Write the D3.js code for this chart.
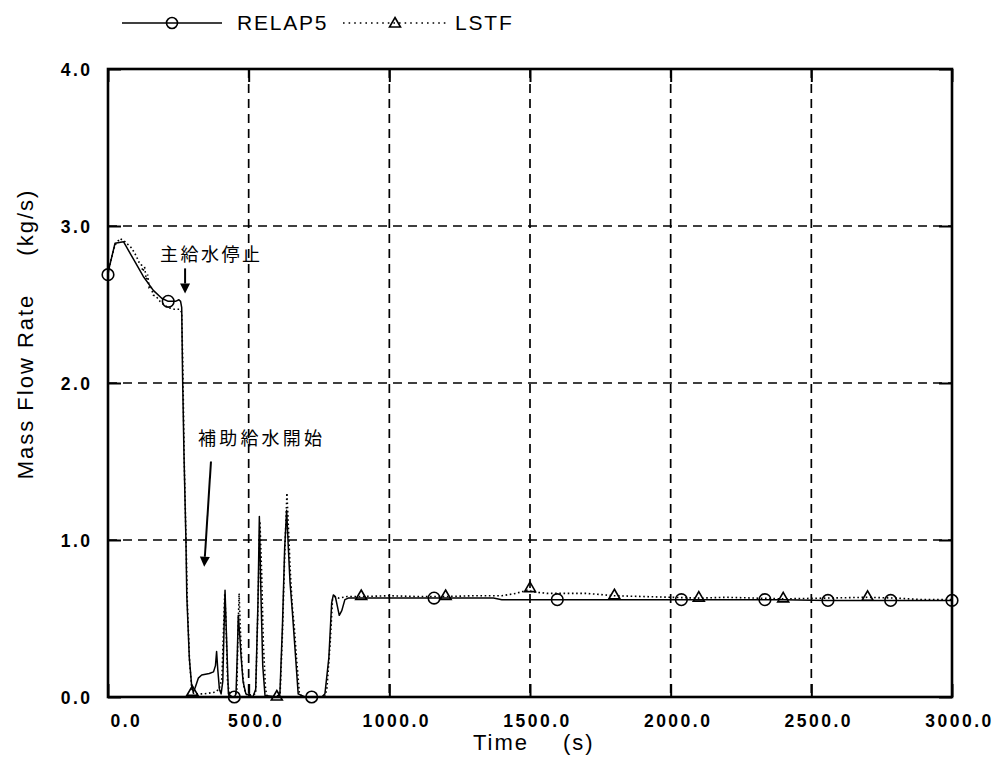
<!DOCTYPE html>
<html>
<head>
<meta charset="utf-8">
<script src="https://cdn.jsdelivr.net/npm/d3@7"></script>
<style>
  html, body { margin: 0; padding: 0; background: #fff; }
  svg { display: block; }
</style>
</head>
<body>
<svg id="chart" width="998" height="760"></svg>
<script>
// Axis ticks and their printed labels
const xTicks = [0, 500, 1000, 1500, 2000, 2500, 3000];
const xTickLabels = ["0.0", "500.0", "1000.0", "1500.0", "2000.0", "2500.0", "3000.0"];
const yTicks = [0, 1, 2, 3, 4];
const yTickLabels = ["0.0", "1.0", "2.0", "3.0", "4.0"];

const seriesNames = ["RELAP5", "LSTF"];

// RELAP5 calculation: time (s) and mass flow rate (kg/s)
const relapTime = [0, 5, 25, 55, 90, 125, 161, 191, 214, 240, 252, 258, 262, 265, 270, 277, 280, 289, 297, 303,
  310, 321, 333, 360, 375, 382, 386, 390, 396, 402, 408, 412, 416, 420, 428, 440, 449, 455, 460, 463,
  468, 473, 480, 490, 515, 525, 533, 538, 543, 550, 558, 600, 611, 620, 628, 635, 641, 647, 655, 665,
  676, 700, 724, 760, 771, 785, 795, 801, 808, 815, 822, 831, 842, 854, 900, 1000, 1100, 1159, 1200, 1300,
  1370, 1400, 1500, 1597, 1700, 1800, 2038, 2100, 2335, 2400, 2559, 2700, 2782, 3000];
const relapFlow = [2.69, 2.74, 2.89, 2.90, 2.79, 2.68, 2.59, 2.54, 2.52, 2.52, 2.53, 2.52, 2.48, 2.05, 1.55, 1.00, 0.65, 0.25, 0.08, 0.03,
  0.06, 0.12, 0.14, 0.15, 0.16, 0.20, 0.29, 0.18, 0.05, 0.02, 0.10, 0.40, 0.68, 0.45, 0.02, 0.00, 0.00, 0.02, 0.30, 0.52,
  0.40, 0.26, 0.10, 0.02, 0.00, 0.05, 0.60, 1.15, 0.70, 0.20, 0.01, 0.00, 0.02, 0.45, 0.95, 1.19, 0.95, 0.73, 0.55, 0.30,
  0.02, 0.00, 0.00, 0.00, 0.02, 0.25, 0.60, 0.65, 0.64, 0.58, 0.52, 0.55, 0.62, 0.63, 0.63, 0.63, 0.63, 0.63, 0.63, 0.63,
  0.63, 0.62, 0.62, 0.62, 0.62, 0.62, 0.62, 0.62, 0.62, 0.62, 0.615, 0.615, 0.615, 0.615];
const relapMarkTime = [0, 214, 449, 724, 1159, 1597, 2038, 2335, 2559, 2782, 3000];
const relapMarkFlow = [2.69, 2.52, 0.00, 0.00, 0.63, 0.62, 0.62, 0.62, 0.615, 0.615, 0.615];

// LSTF experiment: time (s) and mass flow rate (kg/s)
const lstfTime = [0, 10, 25, 43, 60, 84, 100, 110, 118, 124, 130, 136, 141, 146, 152, 161, 172, 185, 198, 214,
  235, 255, 262, 266, 271, 278, 282, 290, 298, 305, 340, 380, 395, 405, 411, 415, 419, 425, 432, 450,
  458, 462, 466, 470, 476, 484, 495, 525, 532, 540, 546, 552, 560, 566, 600, 612, 620, 628, 636, 642,
  648, 655, 662, 670, 680, 690, 770, 778, 790, 798, 805, 820, 850, 900, 1000, 1100, 1200, 1300, 1400, 1450,
  1490, 1510, 1560, 1700, 1800, 1900, 2000, 2100, 2200, 2300, 2400, 2550, 2700, 2800, 2900, 3000];
const lstfFlow = [2.70, 2.78, 2.88, 2.92, 2.90, 2.86, 2.81, 2.77, 2.76, 2.71, 2.74, 2.66, 2.69, 2.61, 2.62, 2.56, 2.55, 2.52, 2.50, 2.48,
  2.47, 2.47, 2.45, 2.10, 1.50, 0.95, 0.60, 0.22, 0.05, 0.02, 0.02, 0.03, 0.05, 0.12, 0.45, 0.66, 0.50, 0.10, 0.01, 0.00,
  0.05, 0.40, 0.66, 0.45, 0.20, 0.05, 0.01, 0.02, 0.50, 1.12, 0.80, 0.35, 0.05, 0.00, 0.00, 0.03, 0.40, 0.90, 1.30, 1.05,
  0.80, 0.58, 0.45, 0.25, 0.03, 0.00, 0.00, 0.05, 0.35, 0.62, 0.64, 0.63, 0.64, 0.64, 0.645, 0.64, 0.64, 0.645, 0.645, 0.66,
  0.68, 0.67, 0.66, 0.66, 0.645, 0.64, 0.635, 0.63, 0.635, 0.63, 0.625, 0.63, 0.635, 0.63, 0.62, 0.62];
const lstfMarkTime = [300, 600, 900, 1200, 1500, 1800, 2100, 2400, 2700];
const lstfMarkFlow = [0.03, 0.00, 0.64, 0.64, 0.69, 0.645, 0.63, 0.625, 0.635];

// Event annotations (placed in data coordinates)
const noteLabels = ["主給水停止", "補助給水開始"];
const noteTextTime = [185, 320];
const noteTextFlow = [2.78, 1.605];
const arrowFromTime = [274, 366];
const arrowFromFlow = [2.73, 1.50];
const arrowToTime = [274, 342];
const arrowToFlow = [2.57, 0.83];

const svg = d3.select("#chart");
const plotL = 108, plotR = 952, plotT = 69, plotB = 697;

const x = d3.scaleLinear().domain([0, 3000]).range([plotL, plotR]);
const y = d3.scaleLinear().domain([0, 4]).range([plotB, plotT]);

svg.append("rect").attr("width", 998).attr("height", 760).attr("fill", "#fff");

const latin = "'Liberation Sans', Arial, Helvetica, sans-serif";
const cjk = "'Noto Sans CJK JP', 'Noto Sans CJK SC', sans-serif";

// Dashed grid
const grid = svg.append("g").attr("stroke", "#000").attr("stroke-width", 1.7).attr("stroke-dasharray", "9,6").attr("fill", "none");
grid.selectAll("line.v").data(xTicks.filter(d => d > 0 && d < 3000)).join("line")
  .attr("class", "v").attr("x1", d => x(d)).attr("x2", d => x(d)).attr("y1", plotT).attr("y2", plotB);
grid.selectAll("line.h").data(yTicks.filter(d => d > 0 && d < 4)).join("line")
  .attr("class", "h").attr("y1", d => y(d)).attr("y2", d => y(d)).attr("x1", plotL).attr("x2", plotR);

// Inward tick marks on all four sides
const tickLen = 13;
function styleAxis(g) {
  g.select(".domain").remove();
  g.selectAll(".tick line").attr("stroke", "#000").attr("stroke-width", 2);
}
const axB = svg.append("g").attr("transform", `translate(0,${plotB})`)
  .call(d3.axisBottom(x).tickValues(xTicks).tickSize(-tickLen).tickFormat((d, i) => xTickLabels[i]));
styleAxis(axB);
axB.selectAll(".tick text")
  .attr("y", 30).attr("dy", null)
  .attr("x", (d, i) => i === 0 ? 2 : 7)
  .attr("text-anchor", (d, i) => i === 0 ? "start" : "middle")
  .attr("font-family", latin).attr("font-weight", "bold").attr("font-size", "17.5px")
  .attr("letter-spacing", "2.5px").attr("fill", "#000");

const axT = svg.append("g").attr("transform", `translate(0,${plotT})`)
  .call(d3.axisTop(x).tickValues(xTicks).tickSize(-tickLen).tickFormat(""));
styleAxis(axT);

const axL = svg.append("g").attr("transform", `translate(${plotL},0)`)
  .call(d3.axisLeft(y).tickValues(yTicks).tickSize(-tickLen).tickFormat((d, i) => yTickLabels[i]));
styleAxis(axL);
axL.selectAll(".tick text")
  .attr("x", -15.5).attr("dy", "0.36em")
  .attr("text-anchor", "end")
  .attr("font-family", latin).attr("font-weight", "bold").attr("font-size", "17.5px")
  .attr("letter-spacing", "2.5px").attr("fill", "#000");

const axR = svg.append("g").attr("transform", `translate(${plotR},0)`)
  .call(d3.axisRight(y).tickValues(yTicks).tickSize(-tickLen).tickFormat(""));
styleAxis(axR);

// Frame
svg.append("rect").attr("x", plotL).attr("y", plotT).attr("width", plotR - plotL).attr("height", plotB - plotT)
  .attr("fill", "none").attr("stroke", "#000").attr("stroke-width", 2.6);

// Curves
const line = d3.line().x(d => x(d[0])).y(d => y(d[1]));
const relap = relapTime.map((t, i) => [t, relapFlow[i]]);
const lstf = lstfTime.map((t, i) => [t, lstfFlow[i]]);

svg.append("path").datum(lstf).attr("d", line)
  .attr("fill", "none").attr("stroke", "#000").attr("stroke-width", 1.6)
  .attr("stroke-dasharray", "1.6,2.6");
svg.append("path").datum(relap).attr("d", line)
  .attr("fill", "none").attr("stroke", "#000").attr("stroke-width", 1.5)
  .attr("stroke-linejoin", "round");

// Markers
const triPath = "M0,-6.5 L5.5,3 L-5.5,3 Z";
svg.append("g").selectAll("circle").data(relapMarkTime).join("circle")
  .attr("cx", d => x(d)).attr("cy", (d, i) => y(relapMarkFlow[i])).attr("r", 5.8)
  .attr("fill", "none").attr("stroke", "#000").attr("stroke-width", 1.6);
svg.append("g").selectAll("path").data(lstfMarkTime).join("path")
  .attr("transform", (d, i) => `translate(${x(d)},${y(lstfMarkFlow[i])})`)
  .attr("d", triPath)
  .attr("fill", "none").attr("stroke", "#000").attr("stroke-width", 1.6);

// Annotations
const notes = svg.append("g");
notes.selectAll("text").data(noteLabels).join("text")
  .attr("x", (d, i) => x(noteTextTime[i])).attr("y", (d, i) => y(noteTextFlow[i]))
  .attr("font-family", cjk).attr("font-size", "18px").attr("letter-spacing", (d, i) => i === 0 ? "2.5px" : "3.2px")
  .attr("fill", "#000").text(d => d);
noteLabels.forEach((d, i) => {
  const x1 = x(arrowFromTime[i]), y1 = y(arrowFromFlow[i]);
  const x2 = x(arrowToTime[i]), y2 = y(arrowToFlow[i]);
  const ang = Math.atan2(y2 - y1, x2 - x1);
  const hl = 10, hw = 5;
  const bx = x2 - hl * Math.cos(ang), by = y2 - hl * Math.sin(ang);
  notes.append("line").attr("x1", x1).attr("y1", y1).attr("x2", bx).attr("y2", by)
    .attr("stroke", "#000").attr("stroke-width", 2);
  notes.append("path")
    .attr("d", `M${x2},${y2} L${bx + hw * Math.sin(ang)},${by - hw * Math.cos(ang)} L${bx - hw * Math.sin(ang)},${by + hw * Math.cos(ang)} Z`)
    .attr("fill", "#000");
});

// Axis titles
const xTitle = svg.append("text").attr("font-family", latin).attr("font-size", "22px")
  .attr("letter-spacing", "2px").attr("fill", "#000");
xTitle.append("tspan").attr("x", 473).attr("y", 750).text("Time");
xTitle.append("tspan").attr("x", 563).attr("y", 750).text("(s)");

const yTitle = svg.append("text").attr("transform", "translate(33,334) rotate(-90)")
  .attr("text-anchor", "middle").attr("font-family", latin).attr("font-size", "22px")
  .attr("letter-spacing", "2px").attr("fill", "#000");
yTitle.append("tspan").text("Mass Flow Rate");
yTitle.append("tspan").attr("dx", 38).text("(kg/s)");

// Legend
const leg = svg.append("g");
leg.append("line").attr("x1", 122).attr("x2", 222).attr("y1", 23).attr("y2", 23)
  .attr("stroke", "#000").attr("stroke-width", 1.6);
leg.append("circle").attr("cx", 172).attr("cy", 23).attr("r", 5.5)
  .attr("fill", "none").attr("stroke", "#000").attr("stroke-width", 1.6);
leg.append("text").attr("x", 237).attr("y", 29.5).attr("font-family", latin).attr("font-size", "21px")
  .attr("letter-spacing", "1.8px").attr("fill", "#000").text(seriesNames[0]);
leg.append("line").attr("x1", 343).attr("x2", 446).attr("y1", 23).attr("y2", 23)
  .attr("stroke", "#000").attr("stroke-width", 1.6).attr("stroke-dasharray", "1.6,4");
leg.append("path").attr("transform", "translate(395,24)").attr("d", triPath)
  .attr("fill", "none").attr("stroke", "#000").attr("stroke-width", 1.6);
leg.append("text").attr("x", 455).attr("y", 29.5).attr("font-family", latin).attr("font-size", "21px")
  .attr("letter-spacing", "1.8px").attr("fill", "#000").text(seriesNames[1]);
</script>
</body>
</html>
